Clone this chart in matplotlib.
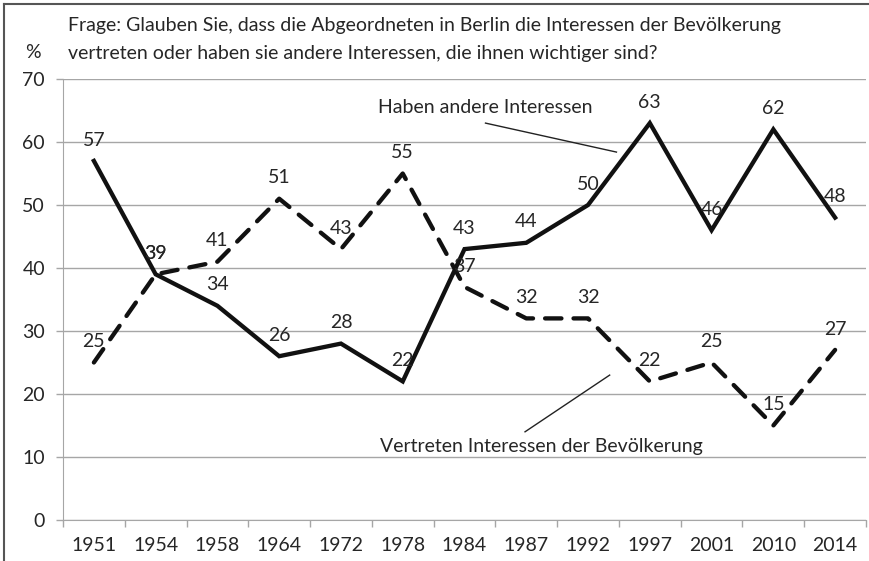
import numpy as np
import matplotlib.pyplot as plt
from matplotlib.lines import Line2D

# data
years = ['1951', '1954', '1958', '1964', '1972', '1978', '1984',
         '1987', '1992', '1997', '2001', '2010', '2014']
andere = [57, 39, 34, 26, 28, 22, 43, 44, 50, 63, 46, 62, 48]
vertreten = [25, 39, 41, 51, 43, 55, 37, 32, 32, 22, 25, 15, 27]
yticks = [0, 10, 20, 30, 40, 50, 60, 70]

title = ("Frage: Glauben Sie, dass die Abgeordneten in Berlin die Interessen der Bevölkerung\n"
         "vertreten oder haben sie andere Interessen, die ihnen wichtiger sind?")

plt.rcParams['font.family'] = ['Lato', 'DejaVu Sans']
fs = 14
txt_col = '#262626'
grid_col = '#a6a6a6'

fig = plt.figure(figsize=(8.69, 5.61), dpi=100)
W, H = 869, 561
ax = fig.add_axes([63 / W, 1 - 520 / H, (866 - 63) / W, (520 - 79) / H])

x = np.arange(len(years))
ax.plot(x, andere, color='#111111', lw=3.1, solid_joinstyle='miter', zorder=3)
ax.plot(x, vertreten, color='#111111', lw=3.1, linestyle=(0, (3.8, 2.8)),
        dash_capstyle='round', zorder=3)

for xi, v in zip(x, andere):
    ax.annotate(str(v), (xi, v), xytext=(0, 15), textcoords='offset points',
                ha='center', va='center', fontsize=fs, color=txt_col, zorder=4)
for xi, v in zip(x, vertreten):
    ax.annotate(str(v), (xi, v), xytext=(0, 15), textcoords='offset points',
                ha='center', va='center', fontsize=fs, color=txt_col, zorder=4)

# callouts
ax.plot([6.34, 8.46], [63.0, 58.4], color='#222222', lw=1, zorder=2)
ax.text(4.6, 65.4, 'Haben andere Interessen', fontsize=fs, color=txt_col,
        ha='left', va='center')
ax.plot([6.98, 8.35], [14.0, 23.0], color='#222222', lw=1, zorder=2)
ax.text(4.63, 11.6, 'Vertreten Interessen der Bevölkerung', fontsize=fs,
        color=txt_col, ha='left', va='center')

ax.set_xlim(-0.5, len(years) - 0.5)
ax.set_ylim(0, 70)
ax.set_yticks(yticks)
ax.set_yticklabels([str(t) for t in yticks], fontsize=fs, color=txt_col)
ax.yaxis.grid(True, color=grid_col, lw=1)
ax.set_axisbelow(True)

ax.set_xticks(x)
ax.set_xticklabels(years, fontsize=fs, color=txt_col)
ax.set_xticks(np.arange(-0.5, len(years)), minor=True)
ax.tick_params(axis='x', which='major', length=0, pad=12)
ax.tick_params(axis='x', which='minor', length=5, color=grid_col, width=1)
ax.tick_params(axis='y', length=5, color=grid_col, width=1, pad=8)

for s in ['top', 'right']:
    ax.spines[s].set_visible(False)
ax.spines['left'].set_color(grid_col)
ax.spines['bottom'].set_color(grid_col)

fig.text(68 / W, 1 - 25 / H, title.split('\n')[0], fontsize=fs, color=txt_col,
         ha='left', va='center')
fig.text(68 / W, 1 - 54 / H, title.split('\n')[1], fontsize=fs, color=txt_col,
         ha='left', va='center')
fig.text(33 / W, 1 - 52 / H, '%', fontsize=fs, color=txt_col,
         ha='center', va='center')

# outer frame (left and top edge)
fig.add_artist(Line2D([4 / W, 4 / W], [0, 1 - 4 / H], color='#555555', lw=1.5))
fig.add_artist(Line2D([4 / W, 1], [1 - 4 / H, 1 - 4 / H], color='#555555', lw=1.5))

fig.savefig('out.png', dpi=100)
